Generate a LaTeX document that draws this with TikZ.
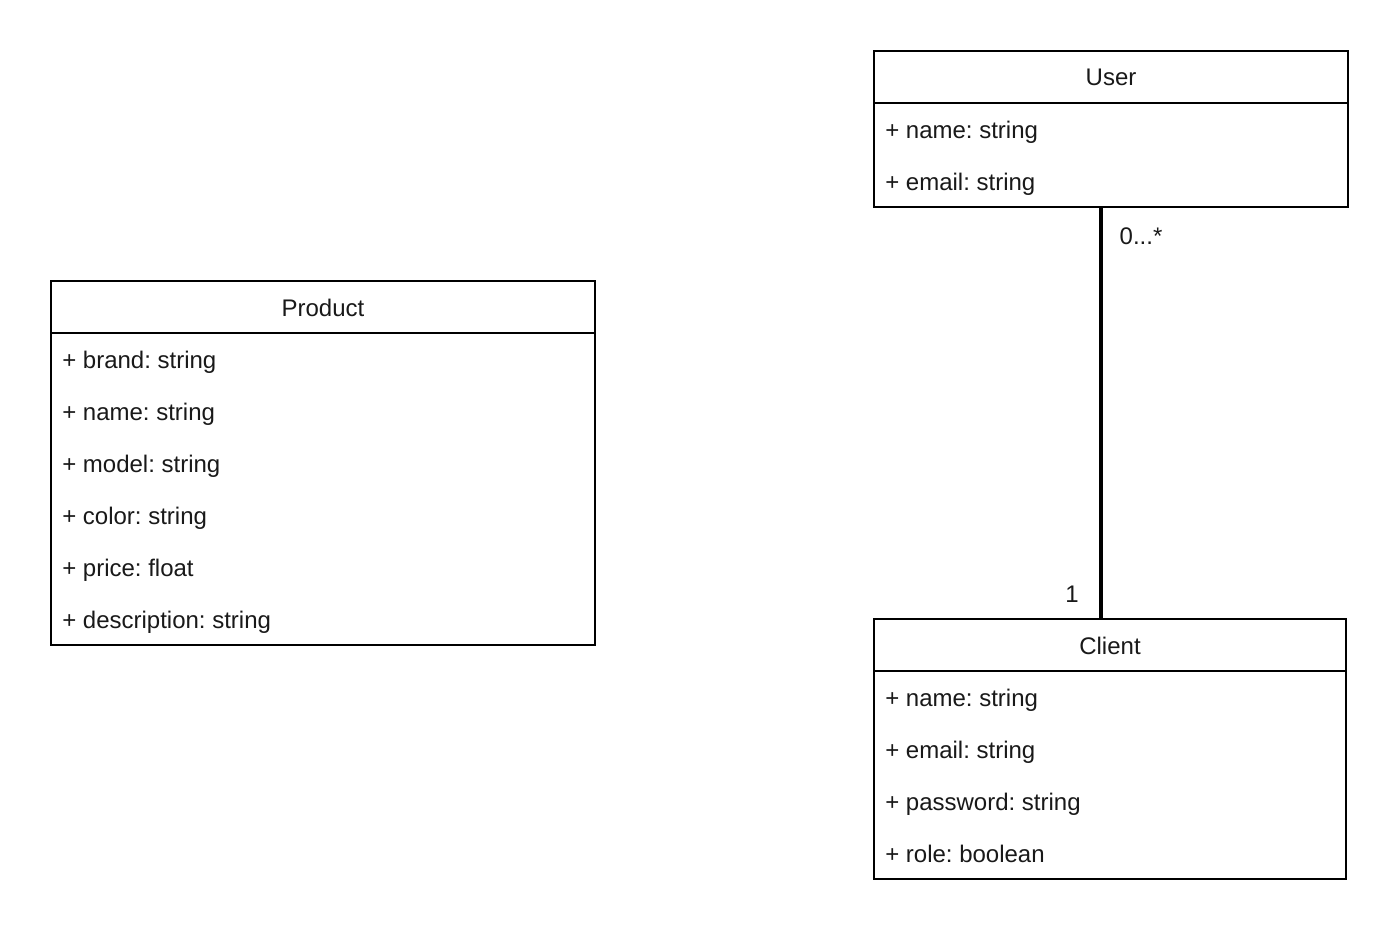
\documentclass[tikz,border=0pt]{standalone}
\usepackage{fontspec}
\setmainfont{Liberation Sans}
\usetikzlibrary{calc}
\frenchspacing
\tikzset{
  classbox/.style={draw=black, line width=1.5pt, fill=white, rectangle, inner sep=0pt, outer sep=0pt},
  hdr/.style={inner sep=0pt, font=\fontsize{18}{21.6}\selectfont, text=black!90},
  attr/.style={anchor=west, inner sep=0pt, yshift=-1.5pt, text height=13pt, text depth=4pt, font=\fontsize{18}{21.6}\selectfont, text=black!90},
  sep/.style={draw=black, line width=1.5pt},
  conn/.style={draw=black, line width=3pt},
  mult/.style={inner sep=0pt, font=\fontsize{18}{21.6}\selectfont, text=black!90}
}
\begin{document}
\frenchspacing
\begin{tikzpicture}[x=0.75pt,y=-0.75pt]
\useasboundingbox (0,0) rectangle (1400,936);
% User
\node[classbox, minimum width=355.5pt, minimum height=117pt] (user) at (1111,129) {};
\draw[sep] ([yshift=-39pt]user.north west) -- ([yshift=-39pt]user.north east);
\node[hdr] (userh) at (1111,77) {User};
\node[attr] (u1) at (885,130) {+ name: string};
\node[attr] (u2) at (885,182) {+ email: string};
% Product
\node[classbox, minimum width=408pt, minimum height=273pt] (product) at (323,463) {};
\draw[sep] ([yshift=-39pt]product.north west) -- ([yshift=-39pt]product.north east);
\node[hdr] (producth) at (323,308) {Product};
\node[attr] (p1) at (62,360) {+ brand: string};
\node[attr] (p2) at (62,412) {+ name: string};
\node[attr] (p3) at (62,464) {+ model: string};
\node[attr] (p4) at (62,516) {+ color: string};
\node[attr] (p5) at (62,568) {+ price: float};
\node[attr] (p6) at (62,620) {+ description: string};
% Client
\node[classbox, minimum width=354pt, minimum height=195pt] (client) at (1110,749) {};
\draw[sep] ([yshift=-39pt]client.north west) -- ([yshift=-39pt]client.north east);
\node[hdr] (clienth) at (1110,646) {Client};
\node[attr] (c1) at (885,698) {+ name: string};
\node[attr] (c2) at (885,750) {+ email: string};
\node[attr] (c3) at (885,802) {+ password: string};
\node[attr] (c4) at (885,854) {+ role: boolean};
% Association
\draw[conn] ($(user.south)+(-10,0)$) -- ($(client.north)+(-9,0)$);
\node[mult] (m1) at (1141,236) {0...*};
\node[mult] (m2) at (1072,594) {1};
\end{tikzpicture}
\end{document}
